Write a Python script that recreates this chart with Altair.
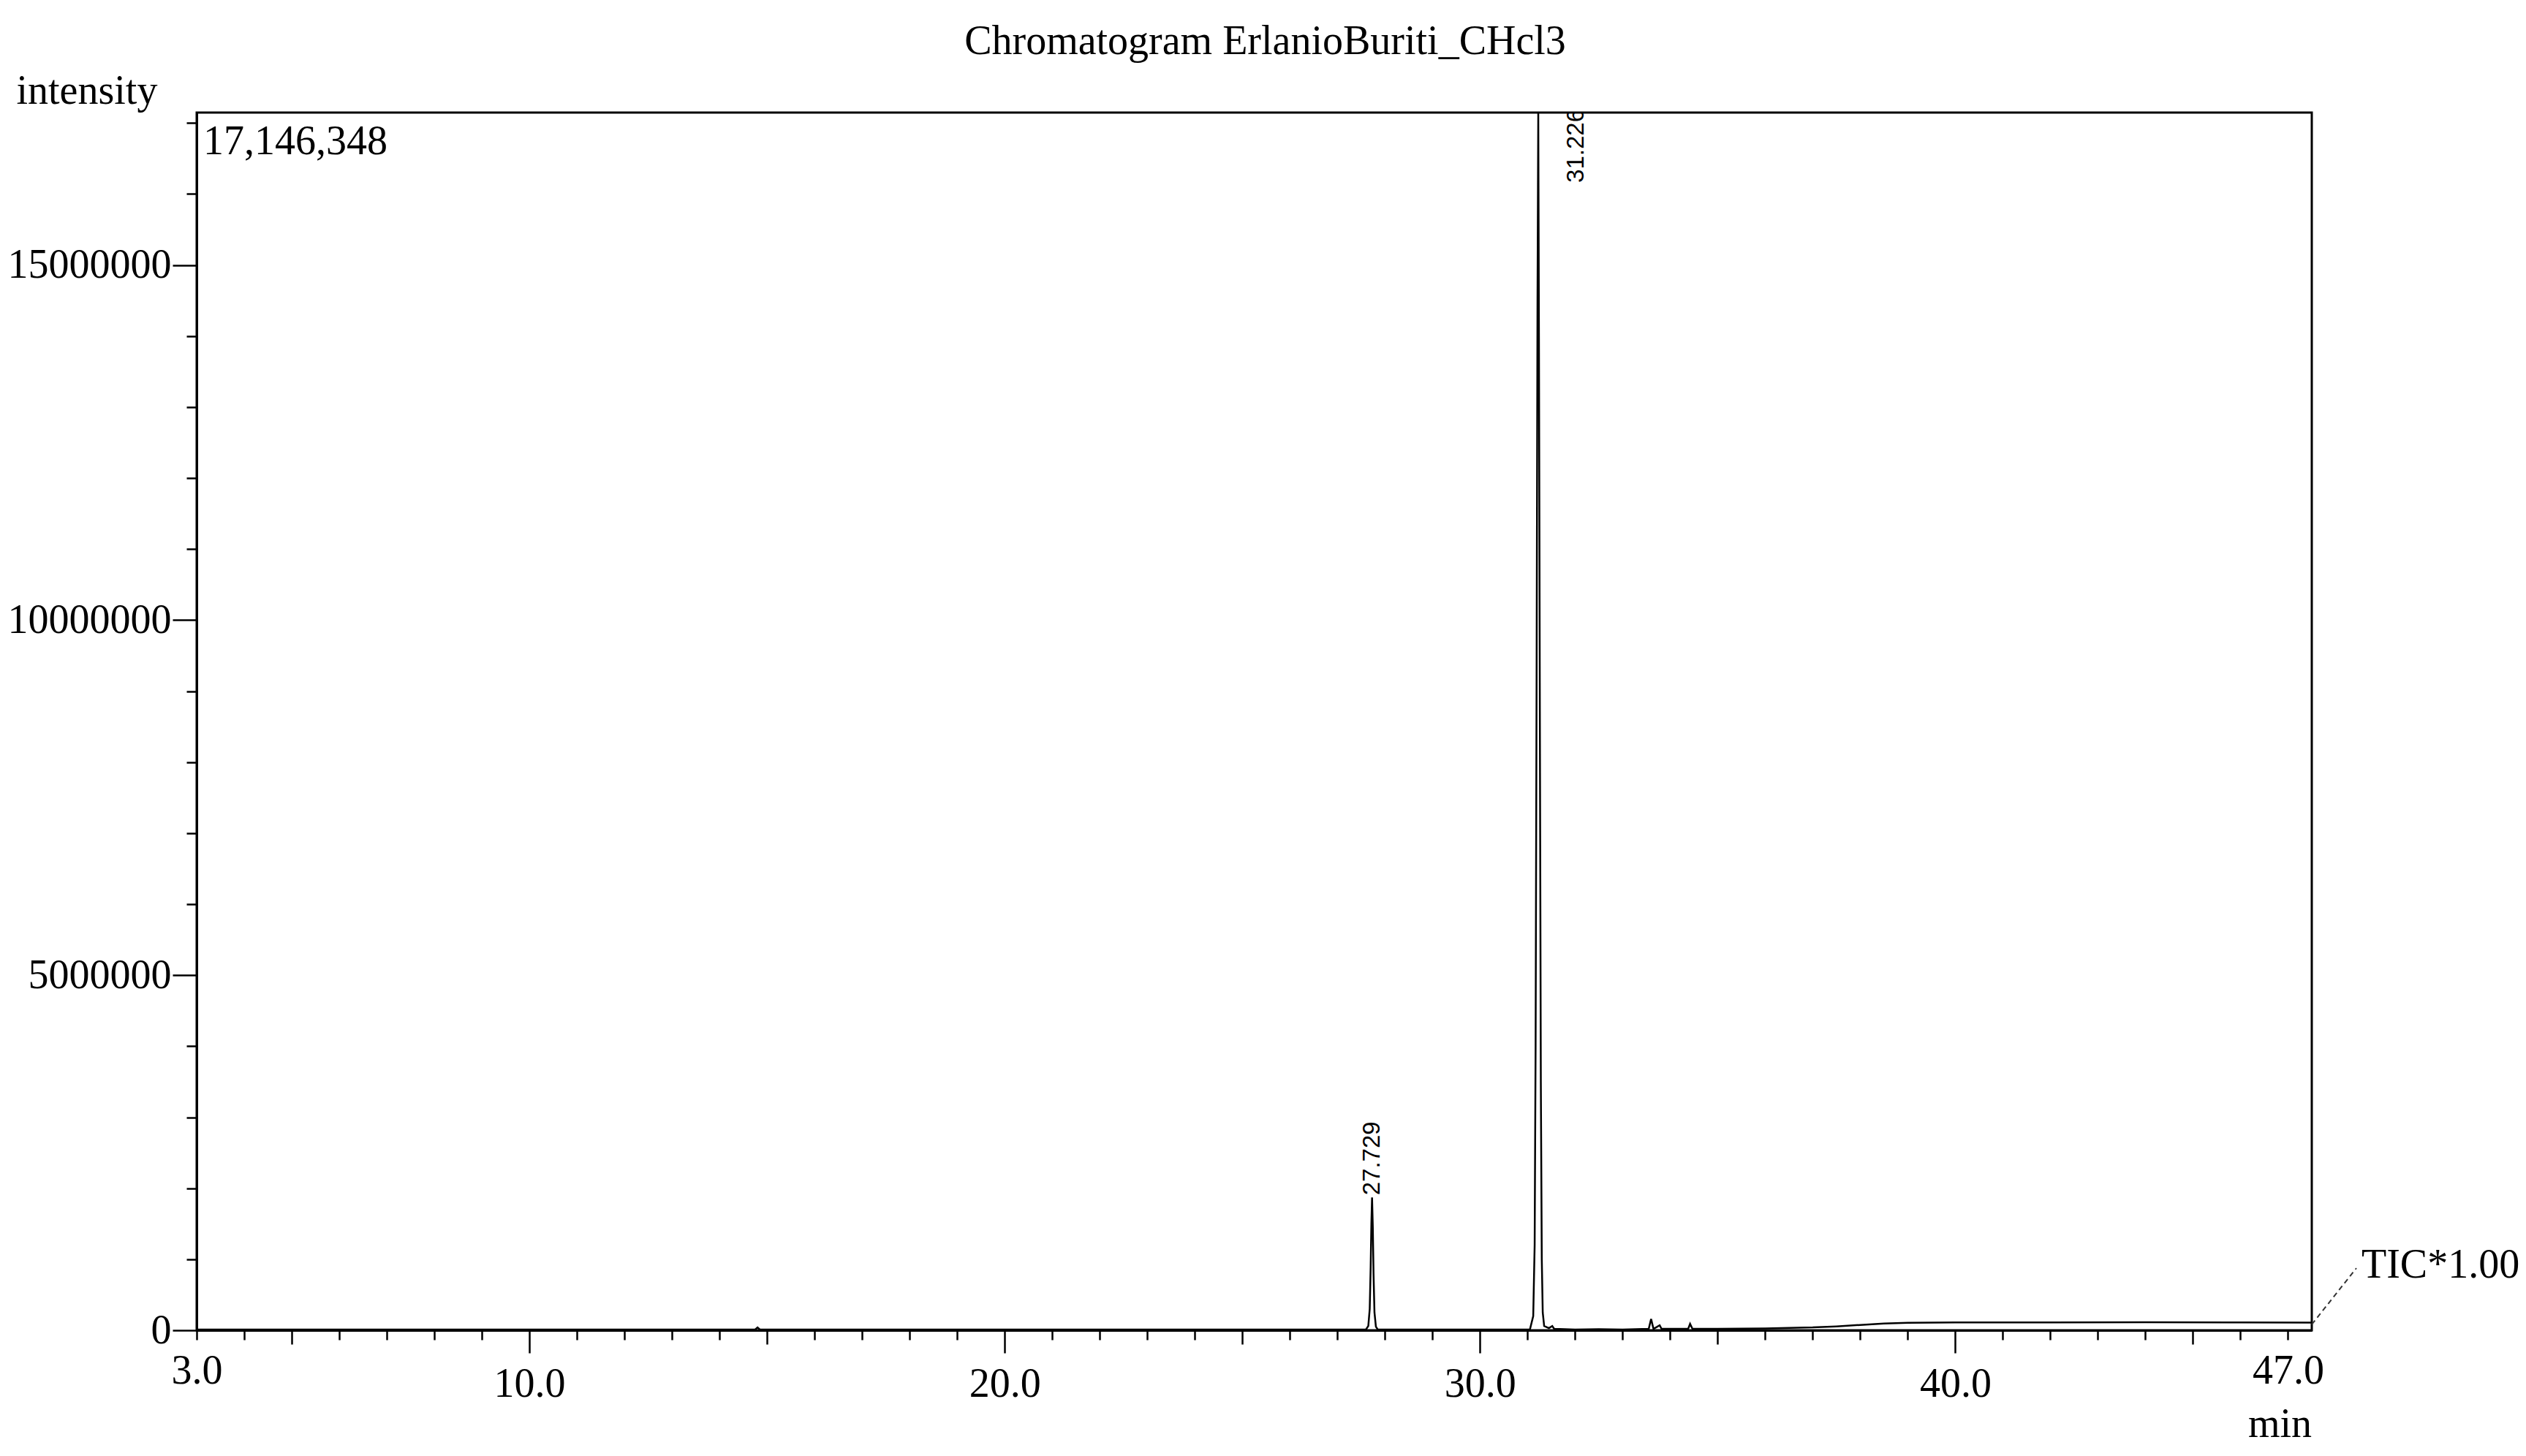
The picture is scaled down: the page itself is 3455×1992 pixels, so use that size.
import altair as alt
import pandas as pd

TITLE = "Chromatogram ErlanioBuriti_CHcl3"

# Retention time (min) and TIC intensity
rt = [3.0, 10.0, 14.75, 14.8, 14.85, 20.0, 25.0,
      27.60, 27.65, 27.68, 27.70, 27.715, 27.729, 27.745, 27.76, 27.78, 27.81, 27.85,
      31.05, 31.12, 31.15, 31.17, 31.19, 31.21, 31.226, 31.24, 31.26, 31.28, 31.30, 31.32, 31.35,
      31.45, 31.52, 31.56, 32.0, 32.5, 33.0, 33.55, 33.60, 33.65, 33.78, 33.82,
      34.38, 34.42, 34.47, 35.0, 36.0, 37.0, 37.5, 38.0, 38.5, 39.0, 40.0, 42.0, 44.0, 46.0, 47.5]
intensity = [10000, 10000, 10000, 40000, 10000, 10000, 10000,
             10000, 60000, 300000, 900000, 1500000, 1870000, 1450000, 800000, 250000, 50000, 10000,
             10000, 200000, 1200000, 4000000, 9000000, 14500000, 17146348, 14000000, 8500000, 3500000, 1000000, 250000, 60000,
             30000, 60000, 20000, 10000, 15000, 10000, 20000, 160000, 20000, 70000, 20000,
             20000, 90000, 20000, 20000, 25000, 40000, 55000, 75000, 95000, 105000, 110000, 110000, 112000, 110000, 108000]

peak_rt = [27.729, 31.226]
peak_height = [1870000, 17146348]

x_ticks = list(range(3, 48))
y_ticks = [i * 1000000 for i in range(0, 18)]

X_MIN, X_MAX = 3.0, 47.5
Y_MAX = max(intensity)

df = pd.DataFrame({"rt": rt, "intensity": intensity})
peaks = pd.DataFrame({"rt": peak_rt, "height": peak_height,
                      "label": [f"{v:.3f}" for v in peak_rt]})
maxlab = pd.DataFrame({"x": [X_MIN], "y": [Y_MAX], "t": [f"{Y_MAX:,}"]})
one = pd.DataFrame({"a": [0]})

SERIF = "Liberation Serif"
SANS = "Liberation Sans"
W, H = 2893, 1666

x_scale = alt.Scale(domain=[X_MIN, X_MAX], nice=False, zero=False)
y_scale = alt.Scale(domain=[0, Y_MAX], nice=False)

x_axis = alt.Axis(
    values=x_ticks,
    labelExpr="(datum.value == 3 || datum.value == 47 || datum.value % 10 == 0) ? format(datum.value, '.1f') : ''",
    tickSize={"condition": [{"test": "datum.value % 10 == 0", "value": 31},
                            {"test": "datum.value % 5 == 0", "value": 19}],
              "value": 13},
    labelFlush=False, labelOverlap=False, labelPadding=15, labelLimit=0,
    titleX=2849, titleY=145, titleAlign="center", titleBaseline="alphabetic",
)
y_axis = alt.Axis(
    values=y_ticks,
    labelExpr="datum.value % 5000000 == 0 ? format(datum.value, 'd') : ''",
    tickSize={"condition": {"test": "datum.value % 5000000 == 0", "value": 33}, "value": 14},
    labelFlush=False, labelOverlap=False, labelPadding=2, labelLimit=0,
    titleAngle=0, titleX=-247, titleY=-13, titleAlign="left", titleBaseline="alphabetic",
)

line = alt.Chart(df).mark_line(color="black", strokeWidth=2.5, clip=True).encode(
    x=alt.X("rt:Q", scale=x_scale, axis=x_axis, title="min"),
    y=alt.Y("intensity:Q", scale=y_scale, axis=y_axis, title="intensity"),
)

max_text = alt.Chart(maxlab).mark_text(
    align="left", baseline="alphabetic", dx=9, dy=57, font=SERIF, fontSize=56, color="black"
).encode(x="x:Q", y="y:Q", text="t:N")

peak_small = alt.Chart(peaks).transform_filter(f"datum.height < {Y_MAX}").mark_text(
    angle=270, align="left", baseline="middle", dx=3, font=SANS, fontSize=33, color="black"
).encode(x="rt:Q", y="height:Q", text="label:N")

peak_main = alt.Chart(peaks).transform_filter(f"datum.height >= {Y_MAX}").mark_text(
    angle=270, align="right", baseline="middle", dx=5, dy=52, font=SANS, fontSize=33,
    color="black", clip=True
).encode(x="rt:Q", y="height:Q", text="label:N")

dash = alt.Chart(one).mark_rule(strokeDash=[7, 5], color="#333333", strokeWidth=2).encode(
    x=alt.value(W), y=alt.value(H - 8), x2=alt.value(W + 61), y2=alt.value(H - 85)
)

tic = alt.Chart(one).mark_text(
    text="TIC*1.00", align="left", baseline="alphabetic", font=SERIF, fontSize=56, color="black"
).encode(x=alt.value(W + 68), y=alt.value(1594))

chart = alt.layer(line, max_text, peak_small, peak_main, dash, tic).properties(
    width=W, height=H,
    title=alt.TitleParams(TITLE, font=SERIF, fontSize=56, fontWeight="normal", color="black",
                          anchor="middle", dx=15, dy=62, offset=28, baseline="alphabetic"),
    padding={"left": 261, "top": 146, "right": 285, "bottom": 160},
    autosize=alt.AutoSizeParams(type="none"),
).configure_view(stroke="black", strokeWidth=3).configure_axis(
    domainColor="black", domainWidth=3, tickColor="black", tickWidth=2.5,
    labelFont=SERIF, labelFontSize=56, labelColor="black",
    titleFont=SERIF, titleFontSize=56, titleFontWeight="normal", titleColor="black",
    grid=False,
)

chart.save("out.html", embed_options={"renderer": "svg", "actions": False})
